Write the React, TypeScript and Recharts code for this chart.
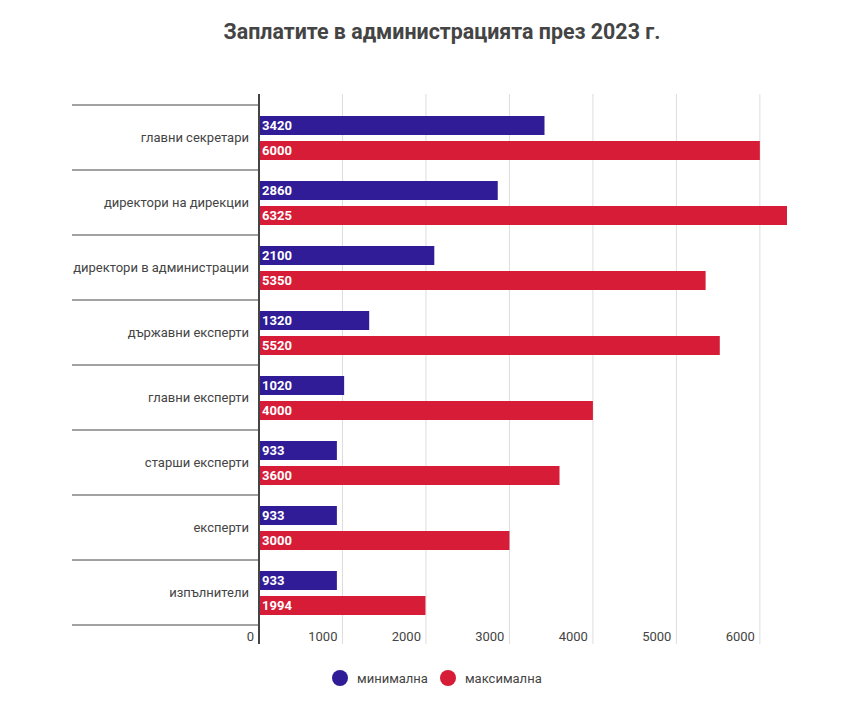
import React from 'react';
import { BarChart, Bar, XAxis, YAxis, CartesianGrid, Legend, LabelList } from 'recharts';

const categories = [
  'главни секретари',
  'директори на дирекции',
  'директори в администрации',
  'държавни експерти',
  'главни експерти',
  'старши експерти',
  'експерти',
  'изпълнители',
];
const minSalary = [3420, 2860, 2100, 1320, 1020, 933, 933, 933];
const maxSalary = [6000, 6325, 5350, 5520, 4000, 3600, 3000, 1994];
const xTicks = [0, 1000, 2000, 3000, 4000, 5000, 6000];
const X_MAX = 6325;

const BLUE = '#2f1c96';
const RED = '#d61c36';
const TEXT = '#444';
const FONT = 'Roboto, "Noto Sans", sans-serif';
const BAND = 65;

const data = categories.map((name, i) => ({
  name,
  min: minSalary[i],
  max: maxSalary[i],
}));

// category label + separator lines that run into the label column
const CategoryTick = (props: any) => {
  const { x, y, payload, index } = props;
  const top = y - BAND / 2;
  const bottom = y + BAND / 2;
  return (
    <g>
      <line x1={72} x2={259} y1={top} y2={top} stroke={TEXT} strokeWidth={1} />
      {index === categories.length - 1 && (
        <line x1={72} x2={259} y1={bottom} y2={bottom} stroke={TEXT} strokeWidth={1} />
      )}
      <text x={x - 2} y={y} textAnchor="end" dominantBaseline="central" fill={TEXT} fontSize={13} fontFamily={FONT}>
        {payload.value}
      </text>
    </g>
  );
};

// value labels sit just left of their gridline, inside the plot
const ValueTick = (props: any) => {
  const { x, y, payload } = props;
  return (
    <text x={x - 5} y={y - 16} textAnchor="end" dominantBaseline="central" fill={TEXT} fontSize={13} fontFamily={FONT}>
      {payload.value}
    </text>
  );
};

// gridlines only at the value ticks (no line at the right edge)
const gridX = ({ offset }: any) => {
  if (!offset) return [];
  return xTicks.slice(1).map((t) => offset.left + (t / X_MAX) * offset.width);
};

const renderLegend = () => (
  <div style={{ display: 'flex', alignItems: 'center', fontFamily: FONT, fontSize: 13, color: TEXT }}>
    <span style={{ width: 16, height: 16, borderRadius: 8, background: BLUE, display: 'inline-block' }} />
    <span style={{ marginLeft: 9, marginRight: 12 }}>минимална</span>
    <span style={{ width: 16, height: 16, borderRadius: 8, background: RED, display: 'inline-block' }} />
    <span style={{ marginLeft: 9 }}>максимална</span>
  </div>
);

export default function App() {
  return (
    <div style={{ position: 'absolute', left: 0, top: 0, width: 848, height: 706, background: '#fff' }}>
      <div
        style={{
          position: 'absolute',
          left: 36,
          width: 812,
          top: 21,
          textAlign: 'center',
          fontFamily: FONT,
          fontWeight: 700,
          fontSize: 21.4,
          lineHeight: '22px',
          color: TEXT,
        }}
      >
        Заплатите в администрацията през 2023 г.
      </div>
      <BarChart
        width={848}
        height={706}
        data={data}
        layout="vertical"
        margin={{ top: 94, right: 61, bottom: 42, left: 0 }}
        barSize={19}
        barGap={6}
      >
        <CartesianGrid horizontal={false} stroke="#ddd" verticalCoordinatesGenerator={gridX} />
        <XAxis
          type="number"
          domain={[0, X_MAX]}
          ticks={xTicks}
          axisLine={false}
          tickLine={false}
          height={20}
          tick={<ValueTick />}
          interval={0}
        />
        <YAxis
          type="category"
          dataKey="name"
          width={259}
          axisLine={{ stroke: TEXT, strokeWidth: 2 }}
          tickLine={false}
          tick={<CategoryTick />}
          padding={{ top: 11, bottom: 19 }}
          interval={0}
        />
        <Legend
          layout="horizontal"
          verticalAlign="middle"
          align="center"
          content={renderLegend}
          wrapperStyle={{ top: 670, left: 332, width: 260 }}
        />
        <Bar dataKey="min" name="минимална" fill={BLUE} isAnimationActive={false}>
          <LabelList dataKey="min" position="insideLeft" offset={3} fill="#fff" fontSize={13} fontWeight={700} fontFamily={FONT} />
        </Bar>
        <Bar dataKey="max" name="максимална" fill={RED} isAnimationActive={false}>
          <LabelList dataKey="max" position="insideLeft" offset={3} fill="#fff" fontSize={13} fontWeight={700} fontFamily={FONT} />
        </Bar>
      </BarChart>
    </div>
  );
}
